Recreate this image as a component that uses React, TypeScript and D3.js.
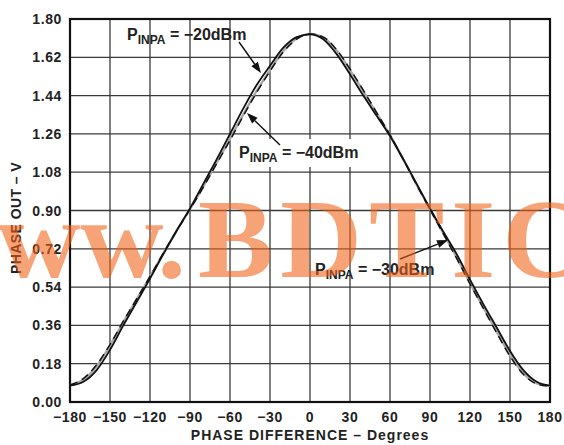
import React from 'react';
import * as d3 from 'd3';

// Phase out vs phase difference, three input power levels.
const degrees = [
  -180, -170, -160, -150, -140, -130, -120, -110, -100, -90, -80, -70, -60, -50, -40, -30, -20, -10,
  0, 10, 20, 30, 40, 50, 60, 70, 80, 90, 100, 110, 120, 130, 140, 150, 160, 170, 180,
];

const out20 = [
  0.077, 0.095, 0.15, 0.245, 0.36, 0.47, 0.58, 0.695, 0.805, 0.91, 1.025, 1.14, 1.26, 1.38, 1.49, 1.58, 1.665, 1.715,
  1.728, 1.705, 1.635, 1.54, 1.44, 1.345, 1.25, 1.14, 1.025, 0.91, 0.8, 0.695, 0.575, 0.46, 0.35, 0.24, 0.15, 0.095, 0.077,
];

const out30 = [
  0.079, 0.105, 0.168, 0.265, 0.375, 0.482, 0.588, 0.698, 0.805, 0.906, 1.013, 1.125, 1.237, 1.352, 1.462, 1.56, 1.65, 1.708,
  1.73, 1.713, 1.652, 1.56, 1.46, 1.356, 1.254, 1.14, 1.021, 0.906, 0.793, 0.68, 0.56, 0.445, 0.331, 0.222, 0.135, 0.088, 0.076,
];

const out40 = [
  0.08, 0.11, 0.175, 0.27, 0.38, 0.485, 0.59, 0.7, 0.805, 0.905, 1.01, 1.12, 1.23, 1.345, 1.455, 1.555, 1.645, 1.705,
  1.73, 1.715, 1.655, 1.565, 1.465, 1.36, 1.255, 1.14, 1.02, 0.905, 0.79, 0.675, 0.555, 0.44, 0.325, 0.215, 0.13, 0.085, 0.075,
];

const xTicks = [-180, -150, -120, -90, -60, -30, 0, 30, 60, 90, 120, 150, 180];
const yTicks = [0, 0.18, 0.36, 0.54, 0.72, 0.9, 1.08, 1.26, 1.44, 1.62, 1.8];

const W = 564;
const H = 445;
const margin = { top: 19, right: 14, bottom: 43, left: 70 };
const FONT = 'Liberation Sans, Arial, Helvetica, sans-serif';

function Label({ x, y, value }: { x: number; y: number; value: string }) {
  return (
    <text x={x} y={y} fontFamily={FONT} fontWeight="bold" fontSize={16} fill="#222">
      <tspan>P</tspan>
      <tspan fontSize={12} dy={4}>INPA</tspan>
      <tspan dy={-4}>{` = ${value}`}</tspan>
    </text>
  );
}

function Arrow({ x1, y1, x2, y2 }: { x1: number; y1: number; x2: number; y2: number }) {
  // filled head at (x2, y2)
  const a = Math.atan2(y2 - y1, x2 - x1);
  const len = 11;
  const half = 4;
  const bx = x2 - len * Math.cos(a);
  const by = y2 - len * Math.sin(a);
  const p1 = [bx + half * Math.sin(a), by - half * Math.cos(a)];
  const p2 = [bx - half * Math.sin(a), by + half * Math.cos(a)];
  return (
    <g>
      <line x1={x1} y1={y1} x2={bx} y2={by} stroke="#111" strokeWidth={1.4} />
      <polygon points={`${x2},${y2} ${p1[0]},${p1[1]} ${p2[0]},${p2[1]}`} fill="#111" />
    </g>
  );
}

export default function App() {
  const x = d3.scaleLinear().domain([-180, 180]).range([margin.left, W - margin.right]);
  const y = d3.scaleLinear().domain([0, 1.8]).range([H - margin.bottom, margin.top]);

  const line = d3
    .line<number>()
    .x((_, i) => x(degrees[i]))
    .y((d) => y(d))
    .curve(d3.curveMonotoneX);

  return (
    <svg width={W} height={H} style={{ position: 'absolute', left: 0, top: 0, background: '#fff' }}>
      {/* grid */}
      {xTicks.map((t) => (
        <line key={`gx${t}`} x1={x(t)} x2={x(t)} y1={y(0)} y2={y(1.8)} stroke="#3a3a3a" strokeWidth={1.3} />
      ))}
      {yTicks.map((t) => (
        <line key={`gy${t}`} x1={x(-180)} x2={x(180)} y1={y(t)} y2={y(t)} stroke="#3a3a3a" strokeWidth={1.3} />
      ))}
      <rect
        x={x(-180)}
        y={y(1.8)}
        width={x(180) - x(-180)}
        height={y(0) - y(1.8)}
        fill="none"
        stroke="#111"
        strokeWidth={2.2}
      />

      {/* curves */}
      <path d={line(out30) ?? ''} fill="none" stroke="#a8a8a8" strokeWidth={2.4} />
      <path d={line(out40) ?? ''} fill="none" stroke="#111" strokeWidth={1.5} strokeDasharray="8,5" />
      <path d={line(out20) ?? ''} fill="none" stroke="#111" strokeWidth={1.8} />

      {/* tick labels */}
      {yTicks.map((t) => (
        <text
          key={`ty${t}`}
          x={62}
          y={y(t) + 5}
          textAnchor="end"
          fontFamily={FONT}
          fontWeight="bold"
          fontSize={14}
          letterSpacing={0.6}
          fill="#222"
        >
          {t.toFixed(2)}
        </text>
      ))}
      {xTicks.map((t) => (
        <text
          key={`tx${t}`}
          x={x(t)}
          y={422}
          textAnchor="middle"
          fontFamily={FONT}
          fontWeight="bold"
          fontSize={14}
          letterSpacing={0.6}
          fill="#222"
        >
          {t < 0 ? `\u2212${-t}` : t}
        </text>
      ))}

      {/* axis titles */}
      <text x={310} y={440} textAnchor="middle" fontFamily={FONT} fontWeight="bold" fontSize={14} letterSpacing={1} fill="#222">
        PHASE DIFFERENCE – Degrees
      </text>
      <text
        transform="translate(21,218) rotate(-90)"
        textAnchor="middle"
        fontFamily={FONT}
        fontWeight="bold"
        fontSize={14}
        letterSpacing={0.4}
        fill="#222"
      >
        PHASE OUT – V
      </text>

      {/* annotations */}
      <Label x={127} y={40} value={'\u221220dBm'} />
      <Arrow x1={239} y1={42} x2={261} y2={73} />

      <rect x={236} y={139} width={124} height={28} fill="#fff" />
      <Label x={239} y={158} value={'\u221240dBm'} />
      <Arrow x1={280} y1={145} x2={247} y2={113} />

      <Label x={315} y={275} value={'\u221230dBm'} />
      <Arrow x1={400} y1={259} x2={448} y2={240} />

      {/* watermark */}
      <g fontFamily="Liberation Serif, Times New Roman, serif" fontWeight="bold" fontSize={113} fill="rgb(242,97,22)" fillOpacity={0.58}>
        <text x={-86} y={277} textLength={272} lengthAdjust="spacingAndGlyphs">www.</text>
        <text x={198} y={277} letterSpacing={7}>BDTIC</text>
      </g>
    </svg>
  );
}
